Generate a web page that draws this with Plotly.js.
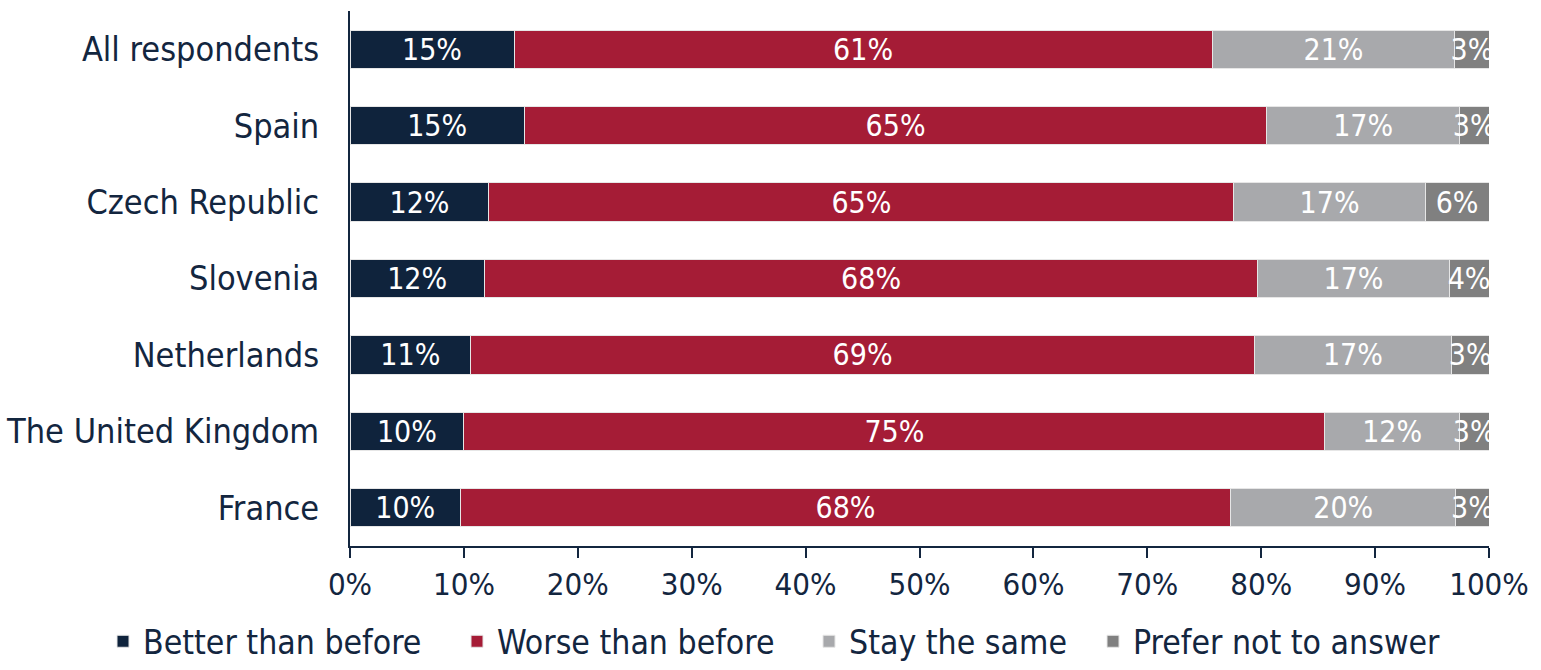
<!DOCTYPE html>
<html>
<head>
<meta charset="utf-8">
<script src="https://cdn.plot.ly/plotly-3.0.1.min.js"></script>
<style>
  html, body { margin: 0; padding: 0; background: #ffffff; }
  #chart { width: 1541px; height: 670px; }
</style>
</head>
<body>
<div id="chart"></div>
<script>
const categories = ["All respondents", "Spain", "Czech Republic", "Slovenia", "Netherlands", "The United Kingdom", "France"];

const betterValues = [14.4, 15.3, 12.2, 11.8, 10.6, 10.0, 9.7];
const worseValues  = [61.3, 65.2, 65.4, 67.9, 68.8, 75.6, 67.6];
const sameValues   = [21.3, 16.9, 16.8, 16.8, 17.3, 11.8, 19.8];
const preferValues = [3.0, 2.6, 5.6, 3.5, 3.3, 2.6, 2.9];

const betterLabels = ["15%", "15%", "12%", "12%", "11%", "10%", "10%"];
const worseLabels  = ["61%", "65%", "65%", "68%", "69%", "75%", "68%"];
const sameLabels   = ["21%", "17%", "17%", "17%", "17%", "12%", "20%"];
const preferLabels = ["3%", "3%", "6%", "4%", "3%", "3%", "3%"];

const seriesNames = ["Better than before", "Worse than before", "Stay the same", "Prefer not to answer"];
const xTicks = [0, 10, 20, 30, 40, 50, 60, 70, 80, 90, 100];

const FONT = "'DejaVu Sans Condensed', Lato, 'DejaVu Sans', sans-serif";
const NAVY = "#13263f";
const colors = ["#0f233c", "#a51c36", "#a8a9ac", "#808080"];
const values = [betterValues, worseValues, sameValues, preferValues];
const labels = [betterLabels, worseLabels, sameLabels, preferLabels];
const legendIds = ["legend", "legend2", "legend3", "legend4"];
const legendLeft = [103, 457, 809, 1093];

const traces = seriesNames.map((name, i) => ({
  type: "bar",
  orientation: "h",
  name: name,
  legend: legendIds[i],
  y: categories,
  x: values[i],
  text: labels[i],
  textposition: "inside",
  insidetextanchor: "middle",
  textangle: 0,
  textfont: { family: FONT, size: 30, color: "#ffffff" },
  marker: { color: colors[i], line: { color: "#e6e6e6", width: 1 } },
  hoverinfo: "skip",
  cliponaxis: false
}));

const layout = {
  width: 1541,
  height: 670,
  barmode: "stack",
  bargap: 0.5,
  margin: { l: 350, r: 52, t: 11, b: 124 },
  paper_bgcolor: "#ffffff",
  plot_bgcolor: "#ffffff",
  font: { family: FONT, color: NAVY, size: 30 },
  uniformtext: { minsize: 28, mode: "show" },
  showlegend: true,
  xaxis: {
    range: [0, 100],
    tickvals: xTicks,
    ticktext: xTicks.map(v => v + "%"),
    showgrid: false,
    zeroline: false,
    showline: true,
    linecolor: NAVY,
    linewidth: 2,
    ticks: "outside",
    ticklen: 10,
    tickwidth: 2,
    tickcolor: NAVY,
    tickfont: { family: FONT, size: 31, color: NAVY },
    fixedrange: true
  },
  yaxis: {
    autorange: "reversed",
    showgrid: false,
    zeroline: false,
    showline: true,
    linecolor: NAVY,
    linewidth: 2,
    ticks: "",
    ticklabelstandoff: 22,
    tickfont: { family: FONT, size: 34, color: NAVY },
    fixedrange: true
  }
};

legendIds.forEach((id, i) => {
  layout[id] = {
    orientation: "h",
    xref: "container",
    yref: "container",
    x: legendLeft[i] / 1541,
    xanchor: "left",
    y: -0.027,
    yanchor: "bottom",
    font: { family: FONT, size: 33.5, color: NAVY },
    itemwidth: 30,
    bgcolor: "rgba(0,0,0,0)"
  };
});

Plotly.newPlot("chart", traces, layout, { displayModeBar: false, staticPlot: true });
</script>
</body>
</html>
